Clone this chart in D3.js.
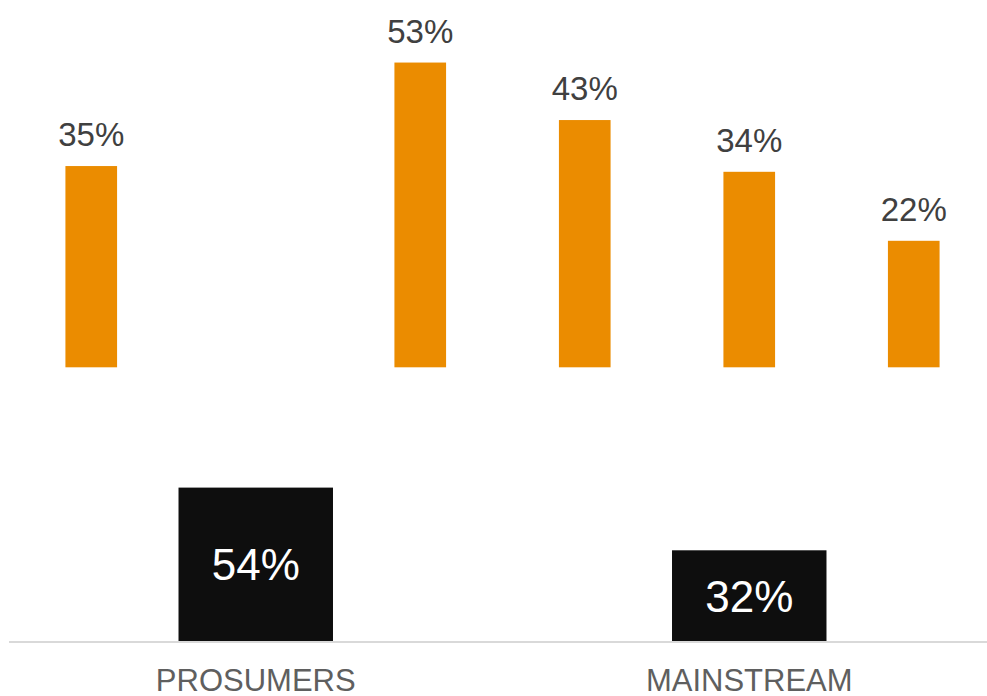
<!DOCTYPE html>
<html>
<head>
<meta charset="utf-8">
<script src="https://cdn.jsdelivr.net/npm/d3@7"></script>
<style>
  html, body { margin: 0; padding: 0; background: #ffffff; }
  svg { display: block; font-family: "Liberation Sans", Arial, Helvetica, sans-serif; }
</style>
</head>
<body>
<svg id="chart" width="987" height="696"></svg>
<script>
// Upper panel: six slots, the second one left empty
const detailSlots = ["s1", "s2", "s3", "s4", "s5", "s6"];
const detailValues = [35, null, 53, 43, 34, 22];

// Lower panel: segment totals
const segments = ["PROSUMERS", "MAINSTREAM"];
const segmentValues = [54, 32];

const W = 987, H = 696;
const svg = d3.select("#chart");

// Shared horizontal extent for both panels
const xRange = [9, 996];

const xTop = d3.scaleBand()
  .domain(detailSlots)
  .range(xRange)
  .paddingInner(0.686)
  .paddingOuter(0.343);

const yTop = d3.scaleLinear()
  .domain([0, 60])
  .range([367.3, 22.3]);

const xBottom = d3.scaleBand()
  .domain(segments)
  .range(xRange)
  .paddingInner(0.687)
  .paddingOuter(0.3435);

const yBottom = d3.scaleLinear()
  .domain([0, 60])
  .range([641.5, 470.5]);

const topData = detailSlots.map((k, i) => ({ key: k, value: detailValues[i] }))
  .filter(d => d.value != null);

// Orange bars
svg.append("g")
  .selectAll("rect")
  .data(topData)
  .join("rect")
  .attr("x", d => xTop(d.key))
  .attr("y", d => yTop(d.value))
  .attr("width", xTop.bandwidth())
  .attr("height", d => yTop(0) - yTop(d.value))
  .attr("fill", "#eb8c00");

// Value labels above orange bars
svg.append("g")
  .selectAll("text")
  .data(topData)
  .join("text")
  .attr("x", d => xTop(d.key) + xTop.bandwidth() / 2)
  .attr("y", d => yTop(d.value) - 20)
  .attr("text-anchor", "middle")
  .attr("font-size", 33)
  .attr("fill", "#404040")
  .text(d => d.value + "%");

const bottomData = segments.map((s, i) => ({ key: s, value: segmentValues[i] }));

// Black segment bars
svg.append("g")
  .selectAll("rect")
  .data(bottomData)
  .join("rect")
  .attr("x", d => xBottom(d.key))
  .attr("y", d => yBottom(d.value))
  .attr("width", xBottom.bandwidth())
  .attr("height", d => yBottom(0) - yBottom(d.value))
  .attr("fill", "#0e0e0e");

// Labels centred inside the black bars
svg.append("g")
  .selectAll("text")
  .data(bottomData)
  .join("text")
  .attr("x", d => xBottom(d.key) + xBottom.bandwidth() / 2)
  .attr("y", d => (yBottom(d.value) + yBottom(0)) / 2)
  .attr("dy", "0.36em")
  .attr("text-anchor", "middle")
  .attr("font-size", 44)
  .attr("fill", "#ffffff")
  .text(d => d.value + "%");

// Baseline
svg.append("line")
  .attr("x1", 9)
  .attr("x2", W)
  .attr("y1", yBottom(0) + 0.5)
  .attr("y2", yBottom(0) + 0.5)
  .attr("stroke", "#d9d9d9")
  .attr("stroke-width", 2);

// Category axis labels
const xAxis = d3.axisBottom(xBottom).tickSize(0).tickPadding(0);
const axisG = svg.append("g")
  .attr("transform", `translate(0, ${yBottom(0)})`)
  .call(xAxis);
axisG.select(".domain").remove();
axisG.selectAll("text")
  .attr("font-family", "'Liberation Sans', Arial, Helvetica, sans-serif")
  .attr("font-size", 31)
  .attr("fill", "#5f5f5f")
  .attr("dy", null)
  .attr("y", 49);
</script>
</body>
</html>
